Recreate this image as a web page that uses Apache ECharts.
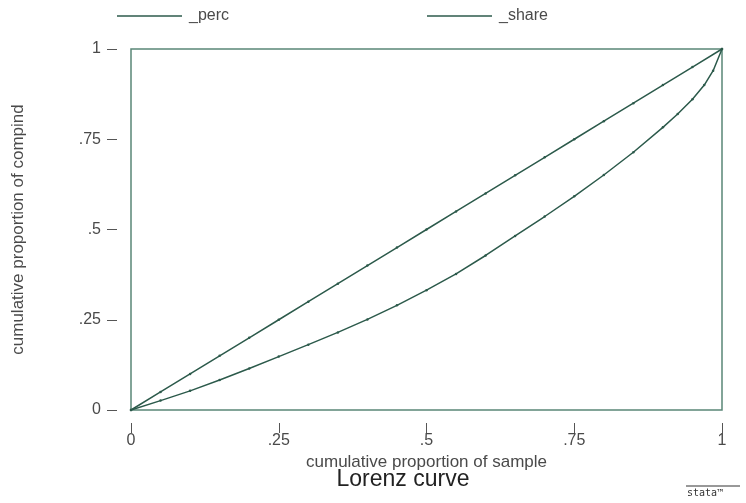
<!DOCTYPE html>
<html>
<head>
<meta charset="utf-8">
<script src="https://cdn.jsdelivr.net/npm/echarts@6/dist/echarts.min.js"></script>
<style>
html,body{margin:0;padding:0;background:#fff;}
#chart{width:746px;height:503px;}
</style>
</head>
<body>
<div id="chart"></div>
<script>
// ---- data ----
const seriesNames = ['_perc', '_share'];
const percX = [0, .05, .1, .15, .2, .25, .3, .35, .4, .45, .5, .55, .6, .65, .7, .75, .8, .85, .9, .95, 1];
const percY = [0, .05, .1, .15, .2, .25, .3, .35, .4, .45, .5, .55, .6, .65, .7, .75, .8, .85, .9, .95, 1];
const shareX = [0, .05, .1, .15, .2, .25, .3, .35, .4, .45, .5, .55, .6, .65, .7, .75, .8, .85, .9, .925, .95, .97, .985, 1];
const shareY = [0, .026, .053, .083, .115, .148, .181, .215, .251, .29, .332, .377, .428, .482, .536, .592, .651, .714, .783, .82, .861, .9, .94, 1];
const tickValues = [0, 0.25, 0.5, 0.75, 1];
const tickLabels = ['0', '.25', '.5', '.75', '1'];
const xTitle = 'cumulative proportion of sample';
const yTitle = 'cumulative proportion of compind';
const chartTitle = 'Lorenz curve';

const lineColor = '#2c5a4b';
const frameColor = '#5a8677';
const textColor = '#4a4a4a';
const font = "'Liberation Sans', Arial, sans-serif";

function fmt(v) {
  const i = tickValues.findIndex(t => Math.abs(t - v) < 1e-9);
  return i >= 0 ? tickLabels[i] : '';
}
function pairs(xs, ys) { return xs.map((x, i) => [x, ys[i]]); }

const chart = echarts.init(document.getElementById('chart'), null, {renderer: 'canvas'});
chart.setOption({
  animation: false,
  backgroundColor: '#fff',
  textStyle: {fontFamily: font, color: textColor},
  title: {
    text: chartTitle,
    left: 403, top: 468, textAlign: 'center', padding: 0,
    textStyle: {fontFamily: font, fontSize: 23, fontWeight: 'normal', color: '#222'}
  },
  legend: [
    {data: [seriesNames[0]], left: 117, top: 8, padding: 0, itemWidth: 65, itemHeight: 1.5, icon: 'rect', itemGap: 0,
     textStyle: {fontFamily: font, fontSize: 16, color: textColor, padding: [0,0,0,2]}},
    {data: [seriesNames[1]], left: 427, top: 8, padding: 0, itemWidth: 65, itemHeight: 1.5, icon: 'rect', itemGap: 0,
     textStyle: {fontFamily: font, fontSize: 16, color: textColor, padding: [0,0,0,2]}}
  ],
  grid: {left: 131, right: 24, top: 49, bottom: 93, show: true, borderColor: frameColor, borderWidth: 1.5, backgroundColor: '#fff'},
  xAxis: {
    type: 'value', min: 0, max: 1, interval: 0.25,
    axisLine: {show: false},
    axisTick: {show: true, length: 23, lineStyle: {color: '#555', width: 1, type: [0, 13, 10, 100]}},
    splitLine: {show: false},
    axisLabel: {formatter: fmt, fontFamily: font, fontSize: 16, color: textColor, margin: 23},
    name: xTitle, nameLocation: 'middle', nameGap: 31,
    nameTextStyle: {fontFamily: font, fontSize: 17, color: textColor}
  },
  yAxis: {
    type: 'value', min: 0, max: 1, interval: 0.25,
    axisLine: {show: false},
    axisTick: {show: true, length: 24, lineStyle: {color: '#555', width: 1, type: [0, 14, 10, 100]}},
    splitLine: {show: false},
    axisLabel: {formatter: fmt, fontFamily: font, fontSize: 16, color: textColor, margin: 30},
    name: yTitle, nameLocation: 'middle', nameGap: 104, nameRotate: 90,
    nameTextStyle: {fontFamily: font, fontSize: 17, color: textColor}
  },
  series: [
    {name: seriesNames[0], type: 'line', data: pairs(percX, percY), symbol: 'circle', symbolSize: 2.5, showSymbol: true,
     itemStyle: {color: lineColor}, lineStyle: {color: lineColor, width: 1.5}},
    {name: seriesNames[1], type: 'line', data: pairs(shareX, shareY), symbol: 'circle', symbolSize: 2.5, showSymbol: true,
     itemStyle: {color: lineColor}, lineStyle: {color: lineColor, width: 1.5}}
  ],
  graphic: [
    {type: 'line', shape: {x1: 686, y1: 486, x2: 740, y2: 486}, style: {stroke: '#333', lineWidth: 1}},
    {type: 'text', left: 687, top: 488, style: {text: 'stata™', font: "10px 'DejaVu Sans Mono', monospace", fill: '#333'}}
  ]
});
</script>
</body>
</html>
